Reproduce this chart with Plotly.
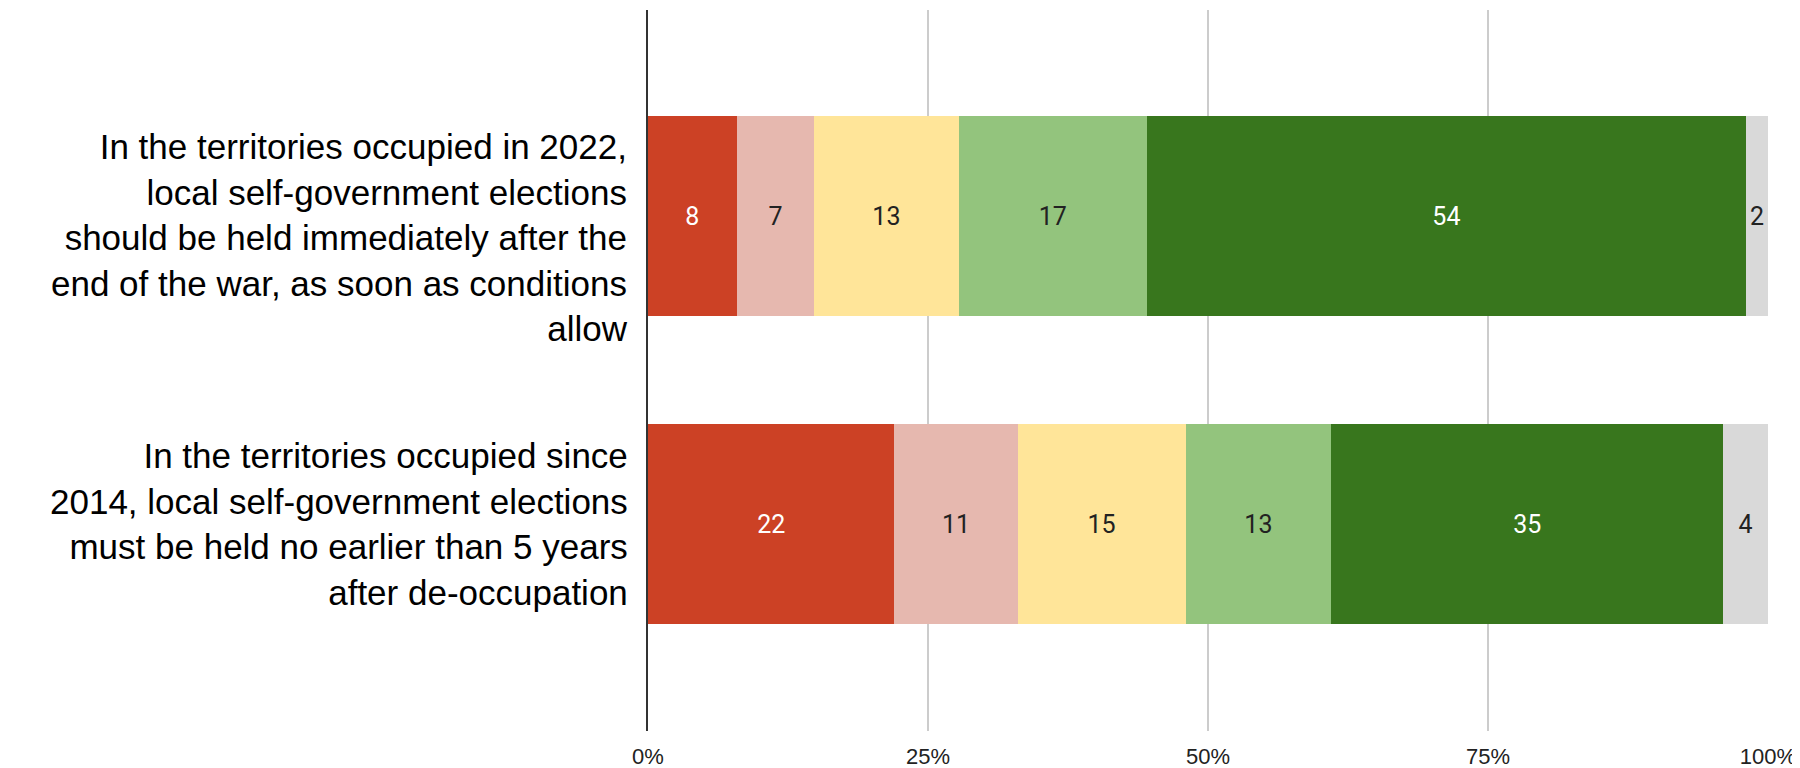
import plotly.graph_objects as go

statements = [
    "In the territories occupied in 2022,<br>local self-government elections<br>should be held immediately after the<br>end of the war, as soon as conditions<br>allow",
    "In the territories occupied since<br>2014, local self-government elections<br>must be held no earlier than 5 years<br>after de-occupation",
]
series_names = ["Strongly disagree", "Rather disagree", "Neutral", "Rather agree", "Strongly agree", "Hard to say"]
values = {
    "Strongly disagree": [8, 22],
    "Rather disagree": [7, 11],
    "Neutral": [13, 15],
    "Rather agree": [17, 13],
    "Strongly agree": [54, 35],
    "Hard to say": [2, 4],
}
x_ticks = [0, 25, 50, 75, 100]
x_ticktext = ["0%", "25%", "50%", "75%", "100%"]

colors = ["#cc4125", "#e6b8af", "#ffe599", "#93c47d", "#38761d", "#d9d9d9"]
text_colors = ["#ffffff", "#222222", "#222222", "#222222", "#ffffff", "#222222"]

fig = go.Figure()
for name, col, tcol in zip(series_names, colors, text_colors):
    fig.add_trace(go.Bar(
        y=list(range(len(statements))),
        x=values[name],
        orientation="h",
        name=name,
        marker=dict(color=col, line=dict(width=0)),
        width=0.65,
        text=values[name],
        texttemplate="%{text}",
        textposition="inside",
        insidetextanchor="middle",
        constraintext="none",
        textfont=dict(family="Roboto", size=25, color=tcol),
        hoverinfo="x+name",
    ))

# category labels on the left, right aligned against the axis
label_shift = [-21, 0]
for i, txt in enumerate(statements):
    fig.add_annotation(
        text=txt, xref="paper", x=0, xanchor="right", xshift=-18,
        yref="y", y=i, yanchor="middle", yshift=label_shift[i],
        align="right", showarrow=False,
        font=dict(family="Liberation Sans, Arial, sans-serif", size=35, color="#000000"),
    )

# page body adds an 8px offset, so the figure is 8px smaller than the window
fig.update_layout(
    barmode="stack",
    barnorm="percent",
    width=1792, height=760,
    margin=dict(l=640, r=32, t=2, b=37),
    plot_bgcolor="white",
    paper_bgcolor="white",
    showlegend=False,
    font=dict(family="Liberation Sans, Arial, sans-serif", color="#000000"),
)
fig.update_xaxes(
    range=[0, 100],
    tickvals=x_ticks,
    ticktext=x_ticktext,
    showgrid=True, gridcolor="#cccccc", gridwidth=2,
    zeroline=False, showline=False,
    ticks="outside", ticklen=6, tickcolor="rgba(0,0,0,0)",
    tickfont=dict(size=22, color="#222222"),
    automargin=False,
)
fig.update_yaxes(
    range=[1.672, -0.669],
    showticklabels=False,
    showgrid=False, zeroline=False,
    showline=True, linecolor="#333333", linewidth=2,
    ticks="",
    automargin=False,
)

fig.write_html("out.html")
